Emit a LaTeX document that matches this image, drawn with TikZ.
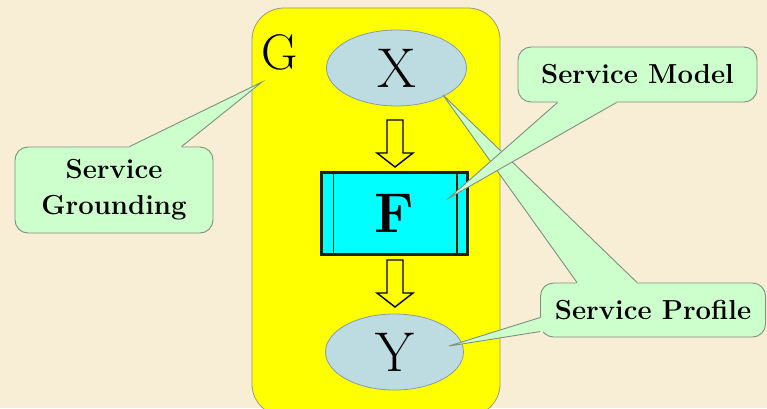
\documentclass[tikz,border=0pt]{standalone}
\usepackage{fontspec}
\usetikzlibrary{shapes.geometric,calc}
\definecolor{paper}{HTML}{F7EED5}
\definecolor{gbox}{HTML}{FFFF00}
\definecolor{gedge}{HTML}{9A9A70}
\definecolor{oval}{HTML}{BCDCE2}
\definecolor{ovaledge}{HTML}{8A9BA8}
\definecolor{callfill}{HTML}{CCFFCC}
\definecolor{calledge}{HTML}{7F8F80}
\definecolor{fedge}{HTML}{202000}
\definecolor{ffill}{HTML}{00FFFF}
\tikzset{
  letter/.style={font=\fontsize{56}{60}\selectfont, inner sep=0pt},
  oval/.style={ellipse, draw=ovaledge, fill=oval, line width=0.8pt, letter},
  callbox/.style={draw=calledge, fill=callfill, line width=0.9pt, rounded corners=13pt,
    font=\bfseries\fontsize{27.5}{37}\selectfont, align=center, inner sep=0pt},
  callwedge/.style={fill=callfill},
  callline/.style={draw=calledge, line width=0.9pt, line join=miter},
  hollowdown/.pic={
    \draw[line width=1.4pt, line join=miter] (-8,0) -- (8,0) -- (8,33) -- (18,33)
      -- (0,47) -- (-18,33) -- (-8,33) -- cycle;}
}
\begin{document}
\begin{tikzpicture}[x=1pt,y=-1pt]
\useasboundingbox (0,0) rectangle (767,408);
\fill[paper] (0,0) rectangle (767,408);

% the grounding frame G
\begin{scope}
  \clip (0,0) rectangle (767,408);
  \draw[gedge, fill=gbox, line width=0.8pt, rounded corners=32pt] (252,8) rectangle (500,416);
\end{scope}
\node[font=\fontsize{50}{54}\selectfont, inner sep=0pt] (G) at (280,52) {G};
\coordinate (gtip) at (262,82);

% process X -> F -> Y
\node[oval, minimum width=140pt, minimum height=76pt] (X) at (396.5,68) {X};
\node[oval, minimum width=138pt, minimum height=76pt] (Y) at (394.5,352) {Y};
\node[draw=fedge, fill=ffill, line width=2.6pt, minimum width=146pt, minimum height=82pt,
      font=\bfseries\fontsize{56}{60}\selectfont, inner sep=0pt] (F) at (394.5,213.5) {F};
\draw[fedge, line width=1.4pt] ($(F.north west)+(13,0)$) -- ($(F.south west)+(13,0)$);
\draw[fedge, line width=1.4pt] ($(F.north east)+(-12,0)$) -- ($(F.south east)+(-12,0)$);
\pic at (395,120) {hollowdown};
\pic at (395,260) {hollowdown};

% tips of the callouts
\coordinate (xtip) at (443,95);
\coordinate (ftip) at (449,198);
\coordinate (ytip) at (449,346);

% Service Grounding
\node[callbox, minimum width=198pt, minimum height=86pt] (sg) at (114,190) {Service\\[-1pt]Grounding};
\coordinate (sg1) at ($(sg.north west)+(115,0)$);
\coordinate (sg2) at ($(sg.north west)+(167,0)$);
\fill[callwedge] (sg1) -- (gtip) -- (sg2) -- ($(sg2)+(0,5)$) -- ($(sg1)+(0,5)$) -- cycle;
\draw[callline] (sg1) -- (gtip) -- (sg2);

% Service Profile
\node[callbox, minimum width=225pt, minimum height=54pt] (sp) at (653,310) {Service Profile};
\coordinate (sp1) at ($(sp.north west)+(37,0)$);
\coordinate (sp2) at ($(sp.north west)+(97,0)$);
\fill[callwedge] (sp1) -- (xtip) -- (sp2) -- ($(sp2)+(0,5)$) -- ($(sp1)+(0,5)$) -- cycle;
\draw[callline] (sp1) -- (xtip) -- (sp2);
\coordinate (sp3) at ($(sp.north west)+(0,35)$);
\coordinate (sp4) at ($(sp.north west)+(0,49)$);
\fill[callwedge] (sp3) -- (ytip) -- (sp4) -- ($(sp4)+(5,0)$) -- ($(sp3)+(5,0)$) -- cycle;
\draw[callline] (sp3) -- (ytip) -- (sp4);

% Service Model
\node[callbox, minimum width=239pt, minimum height=55pt] (sm) at (637.5,74.5) {Service Model};
\coordinate (sm1) at ($(sm.south west)+(40,0)$);
\coordinate (sm2) at ($(sm.south west)+(99,0)$);
\fill[callwedge] (sm1) -- (ftip) -- (sm2) -- ($(sm2)+(0,-5)$) -- ($(sm1)+(0,-5)$) -- cycle;
\draw[callline] (sm1) -- (ftip) -- (sm2);
\end{tikzpicture}
\end{document}
